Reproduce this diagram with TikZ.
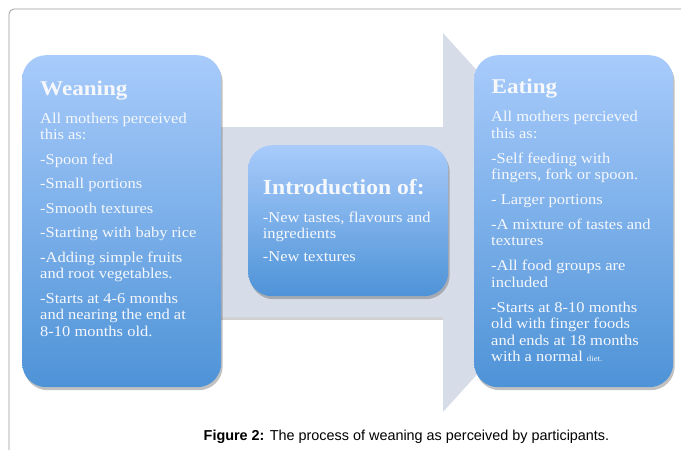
\documentclass[tikz,border=0pt]{standalone}
\usepackage{fontspec}
\setmainfont{Liberation Serif}[FakeStretch=1.1]
\newfontfamily\capfont{Liberation Sans}
\usetikzlibrary{shadows}
\definecolor{boxtop}{HTML}{A8CBFB}
\definecolor{boxbot}{HTML}{4E93D7}
\definecolor{arrowfill}{HTML}{D7DDE8}
\definecolor{framecol}{HTML}{9A9A9A}
\definecolor{txt}{HTML}{F6F8FC}
\begin{document}
\begin{tikzpicture}[x=1pt,y=-1pt,
  box/.style={rounded corners=24pt, top color=boxtop, bottom color=boxbot, draw=none,
    drop shadow={shadow xshift=1.5pt, shadow yshift=-3pt, fill=black!70, opacity=0.35}},
  title/.style={anchor=base west, inner sep=0, text=txt, font=\fontsize{21}{24}\selectfont\bfseries},
  body/.style={anchor=base west, inner sep=0, text=txt, font=\fontsize{15}{16.5}\selectfont},
  framestyle/.style={draw=framecol, line width=0.8pt, rounded corners=5pt},
  arrowshape/.style={fill=arrowfill, draw=none}]
\useasboundingbox (0,0) rectangle (681,450);
% outer frame
\draw[framestyle] (9,460) -- (9,9) -- (690,9);
% big arrow with shadow
\fill[black, opacity=0.18] (220,317) rectangle (443,320);
\path[arrowshape] (220,127) -- (443,127) -- (443,33) -- (615,222.5) -- (443,412) -- (443,317) -- (220,317) -- cycle;
% boxes
\node[box, anchor=north west, minimum width=199pt, minimum height=332pt, inner sep=0] (wean) at (22,55) {};
\node[box, anchor=north west, minimum width=200pt, minimum height=151pt, inner sep=0] (intro) at (248,145) {};
\node[box, anchor=north west, minimum width=199pt, minimum height=332pt, inner sep=0] (eat) at (474,55) {};
% Weaning text
\node[title] (weantitle) at (40,95) {Weaning};
\node[body] (weanbody) at (40,123.3) {\vtop{\hsize=200pt\raggedright\parindent=0pt\baselineskip=16.5pt\parskip=8pt
All mothers perceived\newline this as:\par
-Spoon fed\par
-Small portions\par
-Smooth textures\par
-Starting with baby rice\par
-Adding simple fruits\newline and root vegetables.\par
-Starts at 4-6 months\newline and nearing the end at\newline 8-10 months old.\par}};
% Introduction text
\node[title, font=\fontsize{21.5}{24}\selectfont\bfseries] (introtitle) at (262.7,194.3) {Introduction of:};
\node[body, font=\fontsize{15}{15.3}\selectfont] (introbody) at (262.7,222.7) {\vtop{\hsize=200pt\raggedright\parindent=0pt\baselineskip=15.3pt\parskip=8.4pt
-New tastes, flavours and\newline ingredients\par
-New textures\par}};
% Eating text
\node[title] (eattitle) at (491.5,93) {Eating};
\node[body] (eatbody) at (491,121.7) {\vtop{\hsize=200pt\raggedright\parindent=0pt\baselineskip=16.5pt\parskip=8.4pt
All mothers percieved\newline this as:\par
-Self feeding with\newline fingers, fork or spoon.\par
- Larger portions\par
-A mixture of tastes and\newline textures\par
-All food groups are\newline included\par
-Starts at 8-10 months\newline old with finger foods\newline and ends at 18 months\newline with a normal {\fontsize{8}{9}\selectfont diet.}\par}};
% caption
\node[anchor=base, inner sep=0, font=\capfont\fontsize{14.4}{16}\selectfont] (caption) at (406.5,440) {\textbf{Figure 2:} The process of weaning as perceived by participants.};
\end{tikzpicture}
\end{document}
